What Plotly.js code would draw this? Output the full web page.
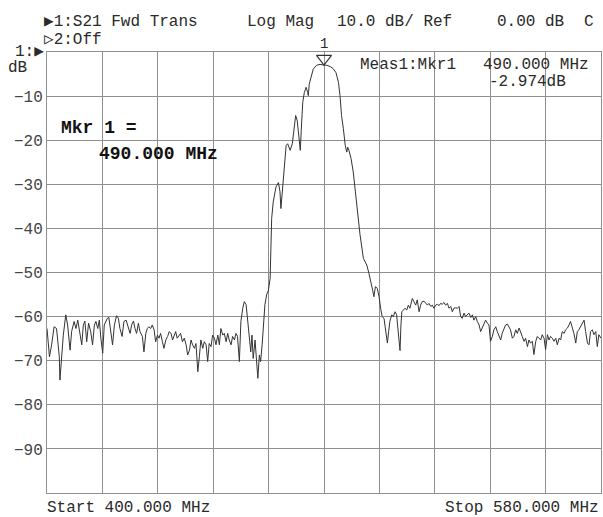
<!DOCTYPE html>
<html>
<head>
<meta charset="utf-8">
<script src="https://cdn.plot.ly/plotly-3.0.1.min.js"></script>
<style>html,body{margin:0;padding:0;background:#fff;}#chart{width:603px;height:517px;}</style>
</head>
<body>
<div id="chart"></div>
<script>
// ---- Data (frequency in MHz, magnitude in dB) ----
const freqNoiseLow = [400.0,400.8,401.5,402.3,403.1,404.0,404.2,404.8,405.3,406.1,406.7,407.5,408.0,408.8,409.4,410.0,410.7,411.3,411.8,412.3,412.9,413.5,414.2,414.8,415.4,415.9,416.5,417.0,417.5,418.1,418.6,419.2,419.6,420.1,420.8,421.3,421.9,422.6,423.2,423.7,424.4,425.0,425.7,426.4,427.0,427.5,428.1,428.6,429.1,429.7,430.2,431.0,431.5,432.1,432.6,433.1,433.7,434.2,434.8,435.3,435.9,436.4,436.9,437.5,438.0,438.6,439.2,439.7,440.3,440.8,441.3,441.8,442.3,442.9,443.4,444.0,444.6,445.2,445.7,446.3,446.8,447.3,447.9,448.4,449.0,449.5,450.0,450.6,451.1,451.7,452.2,452.7,453.3,453.8,454.4,454.9,455.5,456.0,456.5,457.1,457.6,458.2,458.7,459.2,459.8,460.3,460.9,461.4,461.9,462.5,463.0,463.6,464.1,464.7,465.2,465.7,466.2,466.6,467.0,467.6,468.1,468.5,469.0,469.4,469.9,470.3,470.8,471.4,471.9,472.5];
const dbNoiseLow = [-62.7,-69.1,-66.4,-62.3,-62.7,-69.1,-74.4,-68.7,-64.2,-59.6,-61.9,-67.6,-63.4,-61.1,-62.7,-60.8,-64.2,-66.4,-61.9,-61.0,-65.7,-61.5,-63.4,-66.4,-61.9,-61.1,-62.7,-60.8,-64.9,-68.3,-61.9,-60.8,-60.4,-60.2,-63.4,-66.4,-61.9,-59.8,-60.4,-62.7,-64.5,-61.1,-60.8,-62.7,-63.8,-61.9,-61.0,-62.7,-63.8,-61.5,-63.4,-64.5,-68.0,-63.8,-62.7,-62.3,-62.7,-61.9,-63.0,-65.7,-64.2,-64.9,-63.8,-65.7,-67.2,-65.3,-64.5,-63.4,-63.8,-65.3,-64.5,-63.4,-64.9,-64.2,-63.8,-65.7,-64.9,-66.4,-68.7,-67.6,-65.3,-66.4,-67.2,-66.1,-72.5,-69.1,-65.3,-67.2,-65.7,-66.4,-70.2,-66.1,-66.8,-64.2,-64.9,-66.4,-64.2,-66.4,-62.7,-64.2,-63.8,-65.7,-63.8,-65.3,-66.4,-64.5,-65.3,-63.8,-64.5,-70.2,-61.1,-58.1,-56.6,-57.3,-60.4,-64.9,-68.0,-64.2,-69.5,-65.3,-69.5,-74.0,-68.7,-70.2,-66.4,-61.9,-57.3,-54.9,-54.2,-51.3];

const freqPassband = [473.0,473.5,474.4,475.2,475.7,476.0,476.5,477.1,477.7,478.2,479.0,479.7,480.3,480.8,481.3,481.9,482.3,482.6,483.1,483.6,484.2,484.7,484.9,485.2,485.8,486.5,487.6,488.7,490.0,490.9,492.0,493.0,493.9,494.7,495.2,495.7,496.3,496.9,497.4,497.7,498.1,498.8,499.5,500.1,500.6,501.0,501.7];
const dbPassband = [-37.7,-34.0,-30.6,-29.6,-31.7,-35.5,-30.6,-25.0,-21.2,-20.8,-22.3,-20.8,-17.4,-14.4,-15.6,-18.9,-22.3,-17.8,-11.4,-9.2,-8.0,-9.2,-9.9,-7.3,-5.4,-3.9,-3.0,-2.8,-2.974,-3.0,-3.3,-3.8,-4.7,-6.9,-9.9,-14.4,-17.4,-21.2,-22.7,-21.6,-22.3,-24.2,-27.2,-31.0,-34.7,-37.7,-41.4];

const freqNoiseHigh = [502.8,503.9,504.6,505.3,505.8,506.2,506.7,507.3,507.9,508.4,508.9,509.5,510.0,510.6,511.0,511.4,512.0,512.5,513.1,513.6,513.9,514.4,514.7,515.0,515.3,515.8,516.3,516.9,517.4,517.9,518.7,519.2,519.8,520.3,520.9,521.4,521.9,522.5,523.0,523.6,524.1,524.7,525.2,525.7,526.3,526.8,527.4,527.9,528.4,529.0,529.5,530.1,530.6,531.2,531.7,532.2,532.8,533.3,533.9,534.4,534.9,535.5,536.0,536.6,537.1,537.7,538.2,538.7,539.3,539.8,540.4,540.9,541.4,542.0,542.5,543.1,543.6,544.1,544.7,545.2,545.8,546.3,546.9,547.4,547.9,548.5,549.0,549.6,550.1,550.6,551.2,551.7,552.3,552.8,553.4,553.9,554.4,555.0,555.5,556.1,556.6,557.1,557.7,558.2,558.8,559.3,559.9,560.4,560.9,561.5,562.0,562.6,563.1,563.6,564.2,564.7,565.3,565.8,566.4,566.9,567.4,568.0,568.5,569.1,569.6,570.1,570.7,571.2,571.8,572.3,572.8,573.4,573.9,574.5,575.0,575.6,576.1,576.6,577.2,577.7,578.3,578.8,579.3,580.0];
const dbNoiseHigh = [-46.8,-48.3,-50.2,-52.1,-54.0,-55.5,-53.2,-53.6,-55.5,-58.1,-60.0,-60.4,-62.6,-66.0,-63.4,-61.1,-59.6,-60.0,-58.9,-59.6,-61.9,-64.9,-67.7,-61.9,-58.9,-58.5,-58.1,-58.5,-57.4,-58.1,-55.9,-56.6,-57.4,-56.2,-58.9,-57.4,-56.6,-56.5,-57.0,-57.4,-57.0,-57.7,-57.4,-58.1,-57.4,-57.2,-57.5,-57.0,-57.2,-56.8,-57.4,-57.0,-58.1,-57.7,-58.9,-58.1,-58.0,-58.1,-57.7,-60.0,-60.4,-59.2,-60.0,-59.6,-59.2,-60.2,-59.6,-60.8,-60.0,-61.1,-61.9,-63.4,-62.6,-61.5,-60.8,-61.5,-61.9,-65.6,-64.5,-63.0,-62.3,-63.4,-64.5,-65.3,-63.8,-62.6,-61.9,-61.7,-62.3,-63.0,-64.9,-64.5,-63.0,-63.8,-62.6,-63.8,-64.5,-65.6,-64.9,-66.8,-65.3,-66.0,-65.6,-68.6,-65.6,-64.5,-64.9,-65.3,-64.1,-64.9,-67.5,-64.1,-65.3,-64.5,-64.9,-65.6,-64.9,-66.4,-64.9,-65.3,-63.4,-63.8,-63.0,-62.6,-61.9,-61.1,-62.6,-63.8,-66.0,-63.4,-63.0,-62.3,-61.5,-60.8,-63.4,-66.0,-66.4,-63.4,-63.0,-64.1,-63.4,-66.8,-64.1,-64.9];

const startFreq = 400, stopFreq = 580, freqPerDiv = 18;
const refLevel = 0, dbPerDiv = 10, numDiv = 10;
const markerFreq = 490.000, markerDb = -2.974;
const yTickVals = [-10,-20,-30,-40,-50,-60,-70,-80,-90];
const yTickLabels = ['\u221210','\u221220','\u221230','\u221240','\u221250','\u221260','\u221270','\u221280','\u221290'];

// ---- Layout geometry ----
const W = 603, H = 517, ML = 47, MR = 2, MT = 52, MB = 24;
const PW = W - ML - MR, PH = H - MT - MB;
const pxX = x => (x - ML) / PW;
const pxY = y => (H - MB - y) / PH;

const freqs = freqNoiseLow.concat(freqPassband, freqNoiseHigh);
const dbs = dbNoiseLow.concat(dbPassband, dbNoiseHigh);

const xGrid = [];
for (let i = 1; i < numDiv; i++) xGrid.push(startFreq + i * freqPerDiv);

const FONT = '"Liberation Mono", "DejaVu Sans Mono", monospace';
const TXT = '#2a2a2a';
const GRID = '#8f8f8f';

// marker triangle: apex on the trace
const markerSize = 13;
const dbPerPx = (numDiv * dbPerDiv) / PH;
const markerCenterDb = markerDb + (markerSize / 2) * dbPerPx;

const traces = [
  { x: freqs, y: dbs, type: 'scatter', mode: 'lines',
    line: { color: '#333333', width: 1 }, hoverinfo: 'skip' },
  { x: [markerFreq], y: [markerCenterDb], type: 'scatter', mode: 'markers',
    marker: { symbol: 'triangle-down-open', size: markerSize, color: '#333333', line: { width: 1.2 } },
    cliponaxis: false, hoverinfo: 'skip' }
];

function ann(text, x, y, opts) {
  return Object.assign({
    text: text, xref: 'paper', yref: 'paper', x: pxX(x), y: pxY(y),
    xanchor: 'left', yanchor: 'middle', showarrow: false,
    borderpad: 0, borderwidth: 0,
    font: { family: FONT, size: 16, color: TXT }
  }, opts || {});
}

const annotations = [
  ann('\u25B61:S21 Fwd Trans', 44, 22),
  ann('Log Mag', 247, 22),
  ann('10.0 dB/ Ref', 337, 22),
  ann('0.00 dB', 497, 22),
  ann('C', 584, 22),
  ann('\u25B72:Off', 44, 40),
  ann('1:\u25B6', 15, 52.5),
  ann('dB', 8, 68),
  ann('Meas1:Mkr1', 360, 65),
  ann('490.000 MHz', 483, 65),
  ann('-2.974dB', 489, 81.5),
  ann('<b>Mkr 1 =</b>', 61, 128, { font: { family: FONT, size: 18, color: '#111' } }),
  ann('<b>490.000 MHz</b>', 99, 154, { font: { family: FONT, size: 18, color: '#111' } }),
  ann('Start 400.000 MHz', 47, 507.5),
  ann('Stop 580.000 MHz', 598.5, 507.5, { xanchor: 'right' }),
  { text: '1', xref: 'x', yref: 'paper', x: markerFreq, y: pxY(44),
    xanchor: 'center', yanchor: 'middle', showarrow: false, borderpad: 0, borderwidth: 0,
    font: { family: FONT, size: 14, color: TXT } }
];

const layout = {
  width: W, height: H,
  margin: { l: ML, r: MR, t: MT, b: MB, pad: 0 },
  paper_bgcolor: '#ffffff', plot_bgcolor: '#ffffff',
  showlegend: false,
  xaxis: {
    range: [startFreq, stopFreq], tickvals: xGrid, showticklabels: false,
    showgrid: true, gridcolor: GRID, gridwidth: 1, zeroline: false,
    showline: true, linecolor: GRID, linewidth: 1, mirror: true, ticks: ''
  },
  yaxis: {
    range: [refLevel - numDiv * dbPerDiv, refLevel], tickvals: yTickVals, ticktext: yTickLabels,
    showgrid: true, gridcolor: GRID, gridwidth: 1, zeroline: false,
    showline: true, linecolor: GRID, linewidth: 1, mirror: true, ticks: '',
    tickfont: { family: FONT, size: 16, color: '#444' }
  },
  annotations: annotations
};

Plotly.newPlot('chart', traces, layout, { displayModeBar: false, staticPlot: true });
</script>
</body>
</html>
